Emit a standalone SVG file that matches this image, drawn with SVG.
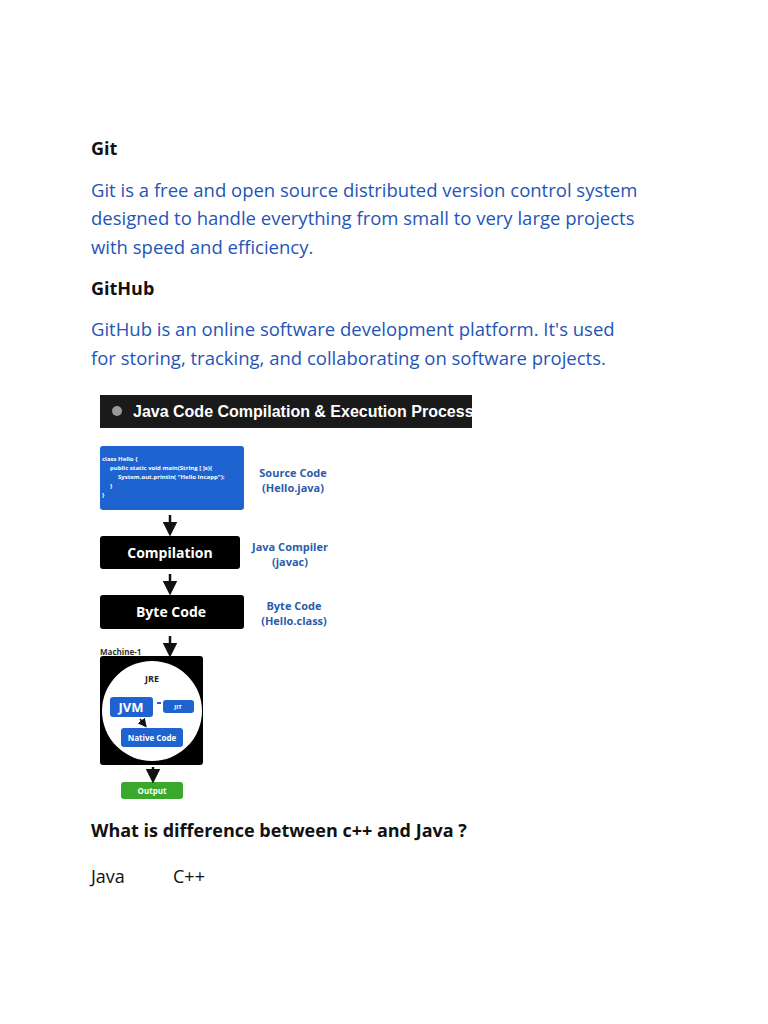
<svg xmlns="http://www.w3.org/2000/svg" width="768" height="1024" viewBox="0 0 768 1024">
<style>
.h{font-family:"Open Sans",sans-serif;font-weight:bold;font-size:18px;fill:#111}
.b{font-family:"Open Sans",sans-serif;font-size:18.5px;fill:#1f55b8}
.t{font-family:"Open Sans",sans-serif;font-size:18px;fill:#111}
.w{font-family:"Open Sans",sans-serif;font-weight:bold;fill:#fff}
.l{font-family:"Open Sans",sans-serif;font-weight:bold;font-size:11px;fill:#2a5cab;text-anchor:middle}
.ar{stroke:#111;stroke-width:2.5;fill:none}
</style>
<defs><marker id="m" markerWidth="6" markerHeight="6" refX="3" refY="3" orient="auto" markerUnits="strokeWidth"><path d="M0,0L6,3L0,6z" fill="#111"/></marker></defs>
<rect width="768" height="1024" fill="#fff"/>
<text class="h" x="91" y="155">Git</text>
<text class="b" x="91" y="197">Git is a free and open source distributed version control system</text>
<text class="b" x="91" y="225">designed to handle everything from small to very large projects</text>
<text class="b" x="91" y="254">with speed and efficiency.</text>
<text class="h" x="91" y="295">GitHub</text>
<text class="b" x="91" y="336">GitHub is an online software development platform. It's used</text>
<text class="b" x="91" y="365">for storing, tracking, and collaborating on software projects.</text>
<g id="header"><rect x="100" y="395" width="372" height="33" fill="#1a1a1a"/><circle cx="117" cy="411" r="5" fill="#999"/><text class="w" x="133" y="417" font-size="16" font-weight="normal" style="font-family:'Liberation Sans',sans-serif">Java Code Compilation &amp; Execution Process</text></g>
<g id="source"><rect x="100" y="446" width="144" height="64" rx="3" fill="#1e63d0"/>
<text x="102" y="461" font-family="Open Sans,sans-serif" font-size="6" fill="#fff" font-weight="bold">class Hello {</text>
<text x="110" y="470" font-family="Open Sans,sans-serif" font-size="6" fill="#fff" font-weight="bold">public static void main(String [ ]s){</text>
<text x="118" y="479" font-family="Open Sans,sans-serif" font-size="6" fill="#fff" font-weight="bold">System.out.println( "Hello Incapp");</text>
<text x="110" y="488" font-family="Open Sans,sans-serif" font-size="6" fill="#fff" font-weight="bold">}</text>
<text x="102" y="497" font-family="Open Sans,sans-serif" font-size="6" fill="#fff" font-weight="bold">}</text>
<text class="l" x="293" y="477">Source Code</text><text class="l" x="293" y="492">(Hello.java)</text></g>
<g id="compilation"><rect x="100" y="536" width="140" height="33" rx="3" fill="#000"/><text class="w" x="170" y="558" font-size="14" text-anchor="middle">Compilation</text>
<text class="l" x="290" y="551">Java Compiler</text><text class="l" x="290" y="566">(javac)</text></g>
<g id="bytecode"><rect x="100" y="595" width="144" height="34" rx="3" fill="#000"/><text class="w" x="171" y="617" font-size="14" text-anchor="middle">Byte Code</text>
<text class="l" x="294" y="610">Byte Code</text><text class="l" x="294" y="625">(Hello.class)</text></g>
<g id="machine"><text x="100" y="655" font-family="Open Sans,sans-serif" font-size="8" fill="#333" font-weight="bold">Machine-1</text>
<rect x="100" y="656" width="103" height="109" rx="3" fill="#000"/><circle cx="152" cy="711" r="50" fill="#fff"/>
<text x="152" y="682" font-family="Open Sans,sans-serif" font-size="9" font-weight="bold" text-anchor="middle" fill="#222">JRE</text>
<rect x="110" y="697" width="43" height="20" rx="3" fill="#1e63d0"/><text class="w" x="131" y="712" font-size="13" text-anchor="middle">JVM</text>
<rect x="157" y="702" width="4" height="2" fill="#1e63d0"/>
<rect x="163" y="700" width="31" height="13" rx="3" fill="#1e63d0"/><text class="w" x="178" y="709" font-size="6" text-anchor="middle">JIT</text>
<rect x="121" y="728" width="62" height="19" rx="3" fill="#1e63d0"/><text class="w" x="152" y="741" font-size="8" text-anchor="middle">Native Code</text></g>
<g id="output"><rect x="121" y="782" width="62" height="17" rx="3" fill="#3aa82a"/><text class="w" x="152" y="794" font-size="8" text-anchor="middle">Output</text></g>
<g id="connectors">
<path class="ar" d="M170,515V529" marker-end="url(#m)"/>
<path class="ar" d="M170,574V588" marker-end="url(#m)"/>
<path class="ar" d="M170,636V650" marker-end="url(#m)"/>
<path d="M140,719L144,724" stroke="#111" stroke-width="1.5" marker-end="url(#m)"/>
<path class="ar" d="M153,767V776" stroke-width="2" marker-end="url(#m)"/>
</g>
<text class="h" x="91" y="837">What is difference between c++ and Java ?</text>
<text class="t" x="91" y="883">Java</text>
<text class="t" x="173" y="883">C++</text>
</svg>
